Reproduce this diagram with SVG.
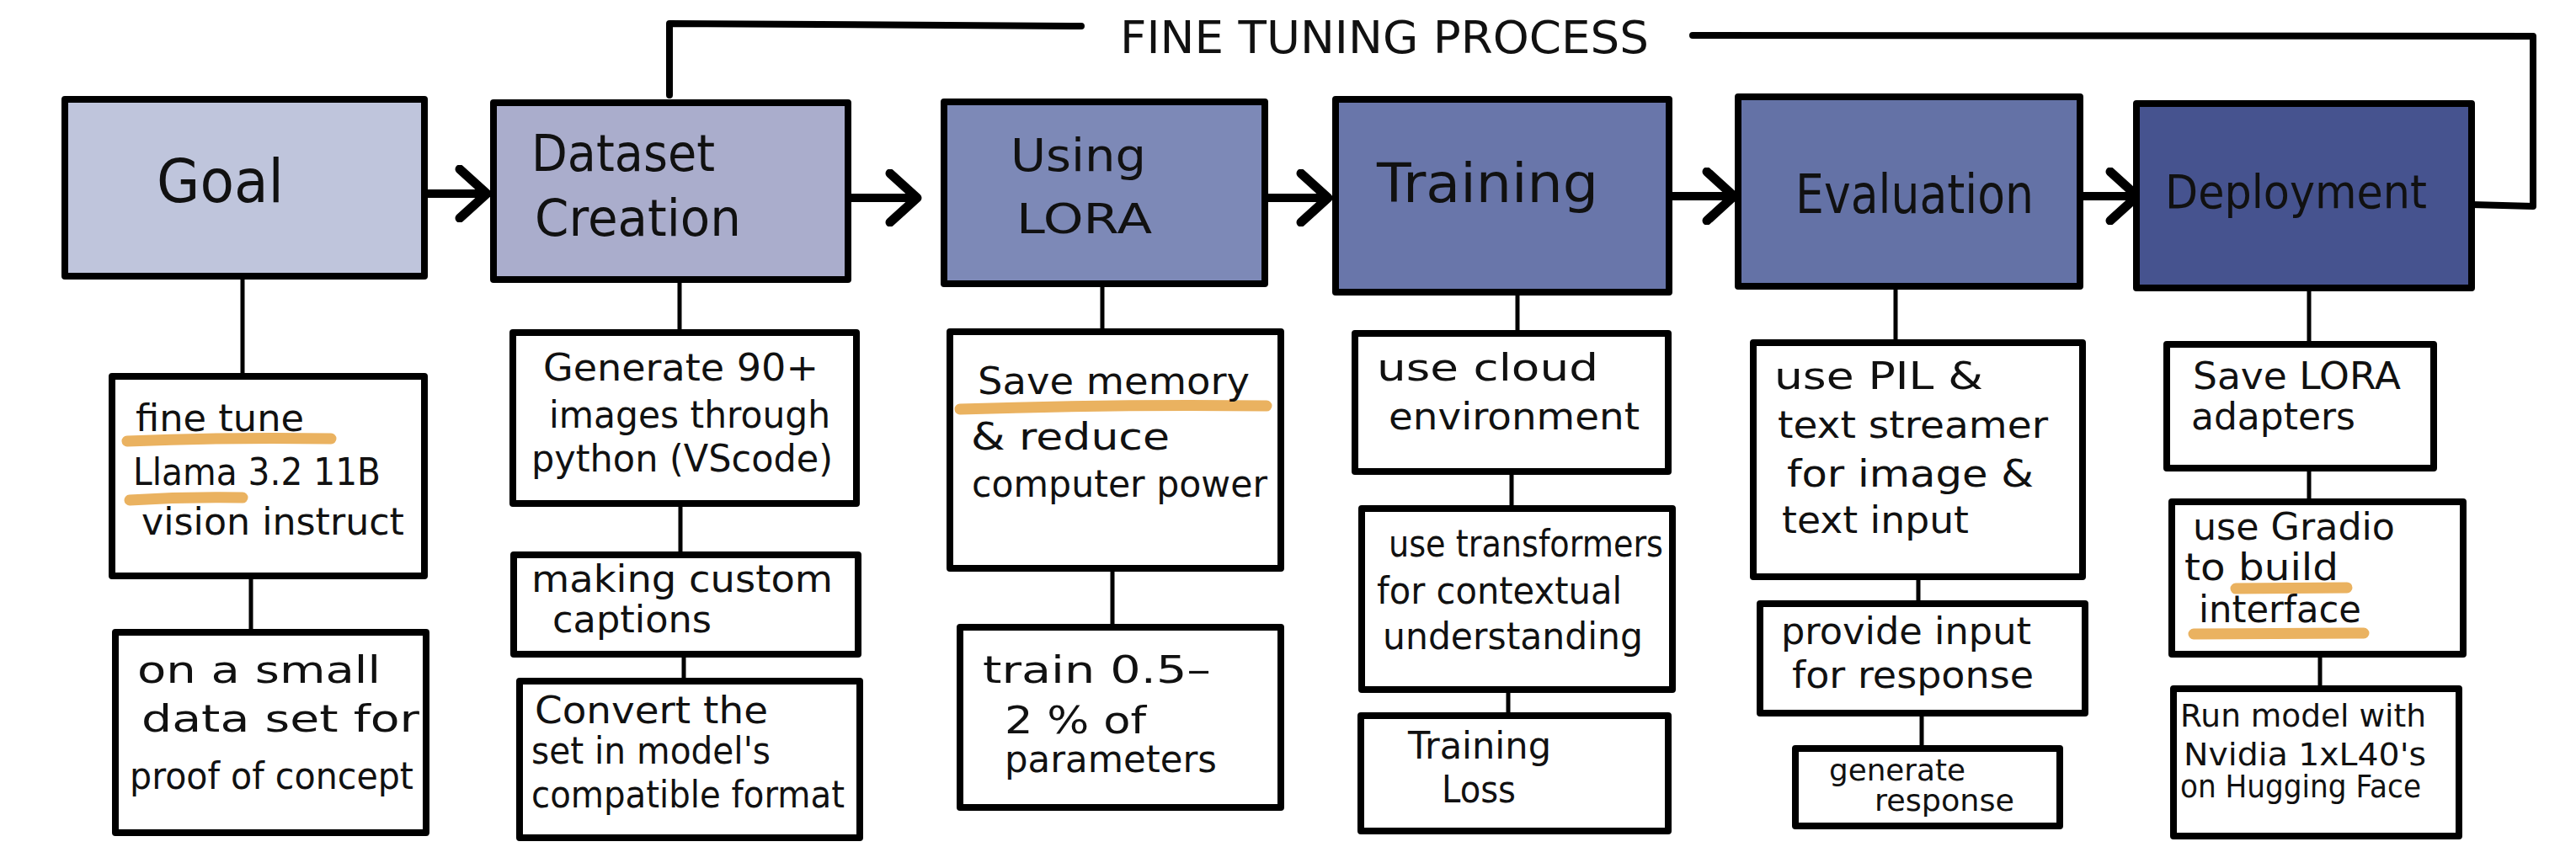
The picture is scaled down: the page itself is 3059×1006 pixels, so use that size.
<svg xmlns="http://www.w3.org/2000/svg" width="3059" height="1006" viewBox="0 0 3059 1006">
<style>
  text { font-family: "DejaVu Sans", "Liberation Sans", sans-serif; fill: #111; }
  .main { stroke: #000; stroke-width: 8; stroke-linejoin: round; }
  .sub { fill: #fff; stroke: #000; stroke-width: 8; stroke-linejoin: round; }
  .t { font-size: 60px; }
  .s { font-size: 44px; }
  .hl { fill: none; stroke: #EAB260; stroke-width: 13; stroke-linecap: round; }
  .conn { fill: none; stroke: #000; stroke-width: 5; stroke-linecap: round; }
  .loop { fill: none; stroke: #000; stroke-width: 8; stroke-linecap: round; stroke-linejoin: round; }
  .arrow { fill: none; stroke: #000; stroke-width: 10; stroke-linecap: butt; }
</style>
<defs>
  <marker id="ah" markerUnits="userSpaceOnUse" viewBox="0 0 44 68" refX="36" refY="34" markerWidth="44" markerHeight="68" orient="auto">
    <path d="M6,5 L38,34 L6,63" fill="none" stroke="#000" stroke-width="11" stroke-linecap="round" stroke-linejoin="round"/>
  </marker>
</defs>

<g id="connectors">
  <path class="loop" d="M795,113 L795,28 L1284,31"/>
  <path class="loop" d="M2010,42 L3008,43 L3008,245 L2935,243"/>
  <line class="arrow" x1="484" y1="230" x2="576" y2="230" marker-end="url(#ah)"/>
  <line class="arrow" x1="1000" y1="235" x2="1087" y2="235" marker-end="url(#ah)"/>
  <line class="arrow" x1="1491" y1="235" x2="1575" y2="235" marker-end="url(#ah)"/>
  <line class="arrow" x1="1972" y1="233" x2="2057" y2="233" marker-end="url(#ah)"/>
  <line class="arrow" x1="2446" y1="233" x2="2536" y2="233" marker-end="url(#ah)"/>
  <line class="conn" x1="288" y1="328" x2="288" y2="447"/>
  <line class="conn" x1="298" y1="684" x2="298" y2="751"/>
  <line class="conn" x1="807" y1="332" x2="807" y2="395"/>
  <line class="conn" x1="808" y1="598" x2="808" y2="659"/>
  <line class="conn" x1="812" y1="777" x2="812" y2="809"/>
  <line class="conn" x1="1309" y1="337" x2="1309" y2="394"/>
  <line class="conn" x1="1321" y1="675" x2="1321" y2="745"/>
  <line class="conn" x1="1802" y1="347" x2="1802" y2="396"/>
  <line class="conn" x1="1795" y1="560" x2="1795" y2="604"/>
  <line class="conn" x1="1791" y1="819" x2="1791" y2="850"/>
  <line class="conn" x1="2251" y1="340" x2="2251" y2="407"/>
  <line class="conn" x1="2278" y1="685" x2="2278" y2="717"/>
  <line class="conn" x1="2282" y1="847" x2="2282" y2="889"/>
  <line class="conn" x1="2742" y1="342" x2="2742" y2="409"/>
  <line class="conn" x1="2742" y1="556" x2="2742" y2="596"/>
  <line class="conn" x1="2755" y1="777" x2="2755" y2="818"/>
</g>

<g id="title">
  <text x="1330" y="63" font-size="54" textLength="628" lengthAdjust="spacingAndGlyphs">FINE TUNING PROCESS</text>
</g>

<g id="goal">
  <rect class="main" x="77" y="118" width="427" height="210" fill="#BFC5DC"/>
  <text x="186" y="240" font-size="72" textLength="151" lengthAdjust="spacingAndGlyphs">Goal</text>
</g>
<g id="dataset">
  <rect class="main" x="586" y="122" width="421" height="210" fill="#AAADCC"/>
  <text class="t" x="631" y="203" font-size="58" textLength="218" lengthAdjust="spacingAndGlyphs">Dataset</text>
  <text class="t" x="635" y="280" font-size="58" textLength="245" lengthAdjust="spacingAndGlyphs">Creation</text>
</g>
<g id="lora">
  <rect class="main" x="1121" y="121" width="381" height="216" fill="#7D89B7"/>
  <text x="1200" y="203" font-size="54" textLength="161" lengthAdjust="spacingAndGlyphs">Using</text>
  <text x="1207" y="277" font-size="50" textLength="161" lengthAdjust="spacingAndGlyphs">LORA</text>
</g>
<g id="training">
  <rect class="main" x="1586" y="118" width="396" height="229" fill="#6976AA"/>
  <text x="1635" y="240" font-size="64" textLength="263" lengthAdjust="spacingAndGlyphs">Training</text>
</g>
<g id="evaluation">
  <rect class="main" x="2064" y="115" width="406" height="225" fill="#6472A6"/>
  <text x="2132" y="253" font-size="64" textLength="283" lengthAdjust="spacingAndGlyphs">Evaluation</text>
</g>
<g id="deployment">
  <rect class="main" x="2537" y="123" width="398" height="219" fill="#46538F"/>
  <text x="2571" y="247" font-size="56" textLength="311" lengthAdjust="spacingAndGlyphs">Deployment</text>
</g>

<g id="goal-1">
  <rect class="sub" x="133" y="447" width="371" height="237"/>
  <path class="hl" d="M151,524 Q270,519 393,521"/>
  <path class="hl" d="M154,594 Q220,590 288,591"/>
  <text class="s" x="161" y="512" textLength="200" lengthAdjust="spacingAndGlyphs">fine tune</text>
  <text class="s" x="158" y="576" textLength="294" lengthAdjust="spacingAndGlyphs">Llama 3.2 11B</text>
  <text class="s" x="168" y="635" textLength="312" lengthAdjust="spacingAndGlyphs">vision instruct</text>
</g>
<g id="goal-2">
  <rect class="sub" x="137" y="751" width="369" height="238"/>
  <text class="s" x="163" y="811" textLength="289" lengthAdjust="spacingAndGlyphs">on a small</text>
  <text class="s" x="168" y="869" textLength="330" lengthAdjust="spacingAndGlyphs">data set for</text>
  <text class="s" x="154" y="937" textLength="337" lengthAdjust="spacingAndGlyphs">proof of concept</text>
</g>

<g id="dataset-1">
  <rect class="sub" x="609" y="395" width="408" height="203"/>
  <text class="s" x="645" y="452" textLength="327" lengthAdjust="spacingAndGlyphs">Generate 90+</text>
  <text class="s" x="652" y="508" textLength="334" lengthAdjust="spacingAndGlyphs">images through</text>
  <text class="s" x="631" y="560" textLength="358" lengthAdjust="spacingAndGlyphs">python (VScode)</text>
</g>
<g id="dataset-2">
  <rect class="sub" x="610" y="659" width="409" height="118"/>
  <text class="s" x="631" y="703" textLength="358" lengthAdjust="spacingAndGlyphs">making custom</text>
  <text class="s" x="656" y="751" textLength="189" lengthAdjust="spacingAndGlyphs">captions</text>
</g>
<g id="dataset-3">
  <rect class="sub" x="617" y="809" width="404" height="186"/>
  <text class="s" x="635" y="859" textLength="277" lengthAdjust="spacingAndGlyphs">Convert the</text>
  <text class="s" x="631" y="907" textLength="284" lengthAdjust="spacingAndGlyphs">set in model's</text>
  <text class="s" x="631" y="959" textLength="372" lengthAdjust="spacingAndGlyphs">compatible format</text>
</g>

<g id="lora-1">
  <rect class="sub" x="1128" y="394" width="393" height="281"/>
  <path class="hl" d="M1140,486 Q1320,480 1504,482"/>
  <text class="s" x="1161" y="468" textLength="323" lengthAdjust="spacingAndGlyphs">Save memory</text>
  <text class="s" x="1153" y="534" textLength="236" lengthAdjust="spacingAndGlyphs">&amp; reduce</text>
  <text class="s" x="1154" y="590" textLength="351" lengthAdjust="spacingAndGlyphs">computer power</text>
</g>
<g id="lora-2">
  <rect class="sub" x="1140" y="745" width="381" height="214"/>
  <text class="s" x="1167" y="811" textLength="271" lengthAdjust="spacingAndGlyphs">train 0.5–</text>
  <text class="s" x="1193" y="871" textLength="168" lengthAdjust="spacingAndGlyphs">2 % of</text>
  <text class="s" x="1193" y="917" textLength="252" lengthAdjust="spacingAndGlyphs">parameters</text>
</g>

<g id="training-1">
  <rect class="sub" x="1609" y="396" width="372" height="164"/>
  <text class="s" x="1635" y="452" textLength="263" lengthAdjust="spacingAndGlyphs">use cloud</text>
  <text class="s" x="1649" y="510" textLength="298" lengthAdjust="spacingAndGlyphs">environment</text>
</g>
<g id="training-2">
  <rect class="sub" x="1617" y="604" width="369" height="215"/>
  <text class="s" x="1649" y="661" textLength="326" lengthAdjust="spacingAndGlyphs">use transformers</text>
  <text class="s" x="1635" y="717" textLength="291" lengthAdjust="spacingAndGlyphs">for contextual</text>
  <text class="s" x="1642" y="771" textLength="309" lengthAdjust="spacingAndGlyphs">understanding</text>
</g>
<g id="training-3">
  <rect class="sub" x="1616" y="850" width="365" height="137"/>
  <text class="s" x="1672" y="901" textLength="170" lengthAdjust="spacingAndGlyphs">Training</text>
  <text class="s" x="1712" y="953" textLength="88" lengthAdjust="spacingAndGlyphs">Loss</text>
</g>

<g id="evaluation-1">
  <rect class="sub" x="2082" y="407" width="391" height="278"/>
  <text class="s" x="2107" y="462" textLength="248" lengthAdjust="spacingAndGlyphs">use PIL &amp;</text>
  <text class="s" x="2111" y="520" textLength="321" lengthAdjust="spacingAndGlyphs">text streamer</text>
  <text class="s" x="2122" y="578" textLength="293" lengthAdjust="spacingAndGlyphs">for image &amp;</text>
  <text class="s" x="2116" y="633" textLength="222" lengthAdjust="spacingAndGlyphs">text input</text>
</g>
<g id="evaluation-2">
  <rect class="sub" x="2090" y="717" width="386" height="130"/>
  <text class="s" x="2115" y="765" textLength="297" lengthAdjust="spacingAndGlyphs">provide input</text>
  <text class="s" x="2128" y="817" textLength="287" lengthAdjust="spacingAndGlyphs">for response</text>
</g>
<g id="evaluation-3">
  <rect class="sub" x="2132" y="889" width="314" height="92"/>
  <text x="2172" y="927" font-size="36" textLength="162" lengthAdjust="spacingAndGlyphs">generate</text>
  <text x="2226" y="963" font-size="36" textLength="166" lengthAdjust="spacingAndGlyphs">response</text>
</g>

<g id="deployment-1">
  <rect class="sub" x="2573" y="409" width="317" height="147"/>
  <text class="s" x="2604" y="462" textLength="247" lengthAdjust="spacingAndGlyphs">Save LORA</text>
  <text class="s" x="2602" y="510" textLength="195" lengthAdjust="spacingAndGlyphs">adapters</text>
</g>
<g id="deployment-2">
  <rect class="sub" x="2579" y="596" width="346" height="181"/>
  <path class="hl" d="M2655,699 L2787,698"/>
  <path class="hl" d="M2605,753 L2807,752"/>
  <text class="s" x="2604" y="641" textLength="240" lengthAdjust="spacingAndGlyphs">use Gradio</text>
  <text class="s" x="2594" y="689" textLength="183" lengthAdjust="spacingAndGlyphs">to build</text>
  <text class="s" x="2611" y="739" textLength="193" lengthAdjust="spacingAndGlyphs">interface</text>
</g>
<g id="deployment-3">
  <rect class="sub" x="2581" y="818" width="339" height="175"/>
  <text x="2589" y="863" font-size="38" textLength="292" lengthAdjust="spacingAndGlyphs">Run model with</text>
  <text x="2593" y="909" font-size="38" textLength="288" lengthAdjust="spacingAndGlyphs">Nvidia 1xL40's</text>
  <text x="2589" y="947" font-size="38" textLength="286" lengthAdjust="spacingAndGlyphs">on Hugging Face</text>
</g>
</svg>
